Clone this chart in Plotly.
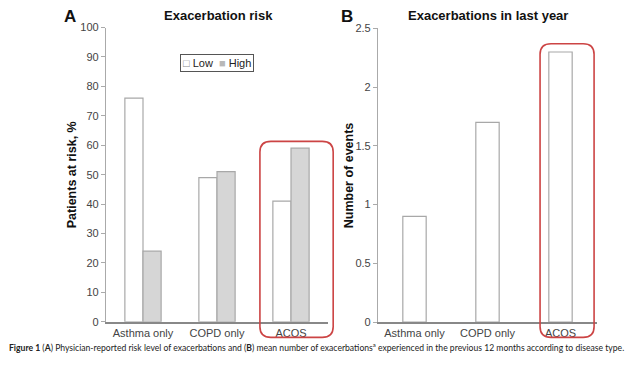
import plotly.graph_objects as go

categories = ["Asthma only", "COPD only", "ACOS"]
risk_low = [76, 49, 41]
risk_high = [24, 51, 59]
events = [0.9, 1.7, 2.3]
risk_ticks = [0, 10, 20, 30, 40, 50, 60, 70, 80, 90, 100]
event_ticks = [0, 0.5, 1, 1.5, 2, 2.5]
event_tick_labels = ["0", "0.5", "1", "1.5", "2", "2.5"]

FONT = "Liberation Sans, Arial, sans-serif"
OUTLINE = "#a8a8a8"
HIGH_FILL = "#d6d6d6"
RED = "#cc4444"

# the page adds an 8px body margin on every side; keep page = 640x366
OFF = 8
W, H = 640 - 2 * OFF, 366 - 2 * OFF


def px(x):
    return (x - OFF) / W


def py(y):
    return 1 - (y - OFF) / H


# subplot geometry (pixel positions in the target picture)
L_X0, L_X1, L_Y0, L_Y1 = 106, 328, 326.7, 22
R_X0, R_X1, R_Y0, R_Y1 = 378, 597, 327, 23
L_RANGE_Y = [0, 100]
R_RANGE_Y = [0, 2.5]
X_RANGE = [-0.5, 2.5]

fig = go.Figure()
fig.add_trace(go.Bar(x=categories, y=risk_low, name="Low", xaxis="x", yaxis="y",
                     marker=dict(color="white", line=dict(color=OUTLINE, width=1.2))))
fig.add_trace(go.Bar(x=categories, y=risk_high, name="High", xaxis="x", yaxis="y",
                     marker=dict(color=HIGH_FILL, line=dict(color=OUTLINE, width=1.2))))
fig.add_trace(go.Bar(x=categories, y=events, name="Events", xaxis="x2", yaxis="y2",
                     showlegend=False, width=0.32,
                     marker=dict(color="white", line=dict(color=OUTLINE, width=1.2))))

axis_common = dict(showgrid=False, zeroline=False, tickfont=dict(family=FONT, size=11, color="#444"))

fig.update_layout(
    width=W, height=H,
    margin=dict(l=0, r=0, t=0, b=0),
    paper_bgcolor="white", plot_bgcolor="white",
    barmode="group", bargap=0.51, bargroupgap=0,
    showlegend=False,
    xaxis=dict(domain=[px(L_X0), px(L_X1)], anchor="y", range=X_RANGE,
               showline=True, linecolor="#888", linewidth=1.5, ticks="", **axis_common),
    yaxis=dict(domain=[py(L_Y0), py(L_Y1)], anchor="x", range=L_RANGE_Y,
               tickvals=risk_ticks, showline=True, linecolor="#aaa", linewidth=1.2,
               ticks="outside", ticklen=4, tickcolor="#aaa", **axis_common),
    xaxis2=dict(domain=[px(R_X0), px(R_X1)], anchor="y2", range=X_RANGE,
                showline=True, linecolor="#888", linewidth=1.5, ticks="", **axis_common),
    yaxis2=dict(domain=[py(R_Y0), py(R_Y1)], anchor="x2", range=R_RANGE_Y,
                tickvals=event_ticks, ticktext=event_tick_labels, showline=True,
                linecolor="#aaa", linewidth=1.2, ticks="outside", ticklen=4,
                tickcolor="#aaa", **axis_common),
)


def to_paper(xv, yv, x0p, x1p, y0p, y1p, yrange):
    """data (category index, value) -> paper coords for a subplot"""
    xpix = x0p + (xv - X_RANGE[0]) / (X_RANGE[1] - X_RANGE[0]) * (x1p - x0p)
    ypix = y0p + (yv - yrange[0]) / (yrange[1] - yrange[0]) * (y1p - y0p)
    return px(xpix), py(ypix)


def rounded_rect(x0, x1, y0, y1, rx, ry):
    return (f"M {x0+rx},{y0} L {x1-rx},{y0} Q {x1},{y0} {x1},{y0+ry} "
            f"L {x1},{y1-ry} Q {x1},{y1} {x1-rx},{y1} L {x0+rx},{y1} "
            f"Q {x0},{y1} {x0},{y1-ry} L {x0},{y0+ry} Q {x0},{y0} {x0+rx},{y0} Z")


acos = categories.index("ACOS")
RAD = 11
ax0, ay0 = to_paper(acos - 0.42, -5.3, L_X0, L_X1, L_Y0, L_Y1, L_RANGE_Y)
ax1, ay1 = to_paper(acos + 0.57, max(risk_high[acos], risk_low[acos]) + 2.3, L_X0, L_X1, L_Y0, L_Y1, L_RANGE_Y)
fig.add_shape(type="path", xref="paper", yref="paper",
              path=rounded_rect(ax0, ax1, ay0, ay1, RAD / W, RAD / H),
              line=dict(color=RED, width=1.6))
bx0, by0 = to_paper(acos - 0.28, -0.13, R_X0, R_X1, R_Y0, R_Y1, R_RANGE_Y)
bx1, by1 = to_paper(acos + 0.46, events[acos] + 0.07, R_X0, R_X1, R_Y0, R_Y1, R_RANGE_Y)
fig.add_shape(type="path", xref="paper", yref="paper",
              path=rounded_rect(bx0, bx1, by0, by1, RAD / W, RAD / H),
              line=dict(color=RED, width=1.6))

ann = []
ann.append(dict(text="<b>A</b>", x=px(70), y=py(11), font=dict(size=17, color="#111")))
ann.append(dict(text="<b>Exacerbation risk</b>", x=px(218), y=py(10), font=dict(size=13, color="#111")))
ann.append(dict(text="<b>B</b>", x=px(347), y=py(11), font=dict(size=17, color="#111")))
ann.append(dict(text="<b>Exacerbations in last year</b>", x=px(488), y=py(10), font=dict(size=13, color="#111")))
ann.append(dict(text="<b>Patients at risk, %</b>", x=px(72), y=py(175), textangle=-90,
                font=dict(size=12.5, color="#111")))
ann.append(dict(text="<b>Number of events</b>", x=px(349), y=py(175), textangle=-90,
                font=dict(size=12.5, color="#111")))
ann.append(dict(text=f"<span style='color:#888'>□</span> Low  <span style='color:#b8b8b8'>■</span> High",
                x=px(217), y=py(59), font=dict(size=11, color="#222"),
                bordercolor="#555", borderwidth=1, borderpad=2, bgcolor="white"))
ann.append(dict(text="<b>Figure 1</b> (<b>A</b>) Physician-reported risk level of exacerbations and (<b>B</b>) mean number of exacerbations<sup>a</sup> experienced in the previous 12 months according to disease type.",
                x=px(7), y=py(353), xanchor="left", font=dict(family="Lato, sans-serif", size=8.6, color="#222")))
for a in ann:
    a.setdefault("xanchor", "center")
    a.update(xref="paper", yref="paper", yanchor="middle", showarrow=False)
    a["font"].setdefault("family", FONT)
fig.update_layout(annotations=ann)

fig.write_html("out.html")
